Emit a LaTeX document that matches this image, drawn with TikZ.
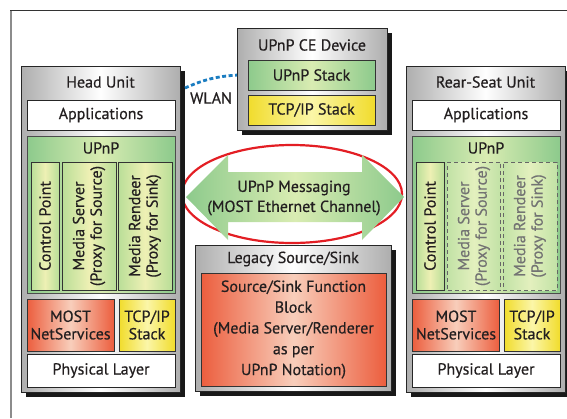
\documentclass[tikz,border=0pt]{standalone}
\usepackage{fontspec}
\setmainfont{PT Sans}[FakeBold=0.5]
\usepackage{tikz}
\usetikzlibrary{shadows}
\definecolor{TextGray}{HTML}{231F20}
\definecolor{MetalGray}{HTML}{AEAEAE}
\definecolor{UpGreenDark}{HTML}{8DCA8C}
\definecolor{UpGreenLight}{HTML}{D9ECB2}
\definecolor{ColGreen}{HTML}{B9DE98}
\definecolor{ColYellow}{HTML}{EEF0B4}
\definecolor{GhostGreen}{HTML}{C2E2A6}
\definecolor{GhostLight}{HTML}{E3F0BE}
\definecolor{TcpDark}{HTML}{F1DC2C}
\definecolor{TcpLight}{HTML}{FBF6A8}
\definecolor{MostDark}{HTML}{EC5E3E}
\definecolor{MostLight}{HTML}{F8CEBB}
\definecolor{WlanBlue}{HTML}{1B7DC1}
\definecolor{RingRed}{HTML}{E31E24}

\begin{document}
\begin{tikzpicture}[
		x=1pt,y=-1pt,
		every node/.style={font=\fontsize{16}{17.5}\selectfont, text=TextGray, inner sep=0pt, outer sep=0pt},
		UnitBox/.style={draw=black!85, line width=0.8pt, left color=MetalGray, right color=MetalGray, middle color=white,
			drop shadow={shadow xshift=5pt, shadow yshift=-5pt, fill=black!90, opacity=1}},
		WhiteLayer/.style={draw=black!85, line width=0.8pt, fill=white},
		GreenLayer/.style={draw=black!70, line width=0.8pt, left color=UpGreenDark, right color=UpGreenDark, middle color=UpGreenLight},
		YellowLayer/.style={draw=black!80, line width=0.8pt, left color=TcpDark, right color=TcpDark, middle color=TcpLight},
		RedLayer/.style={draw=black!80, line width=0.8pt, left color=MostDark, right color=MostDark, middle color=MostLight},
		ColBox/.style={draw=black!80, line width=0.8pt, left color=ColGreen, right color=ColGreen, middle color=ColYellow},
		GhostBox/.style={draw=black!60, dash pattern=on 4pt off 3pt, line width=0.8pt, left color=GhostGreen, right color=GhostGreen, middle color=GhostLight},
		ColText/.style={rotate=90, align=center},
		GhostText/.style={rotate=90, align=center, text=black!55},
		WlanLine/.style={draw=WlanBlue, line width=2.8pt, dash pattern=on 4pt off 2.5pt}
		]
		\useasboundingbox (0,0) rectangle (567,418);
		
		% frame
		\draw[black!45, line width=1.3pt] (11,418) -- (11,10);
		\draw[black!80, line width=0.8pt] (10,10) -- (567,10);
		
		% messaging ring and arrow
		\draw[RingRed, line width=2.2pt] (292,194) ellipse [x radius=110, y radius=49];
		\path[left color=UpGreenDark, right color=UpGreenDark, middle color=UpGreenLight]
			(186,197) -- (228,155) -- (228,172) -- (362,172) -- (362,155) -- (404,197)
			-- (362,240) -- (362,222) -- (228,222) -- (228,240) -- cycle;
		\node[align=center, font=\fontsize{16}{20}\selectfont] (msgText) at (294,198) {UPnP Messaging\\(MOST Ethernet Channel)};
		
		%% head unit
		\node[UnitBox, minimum width=159pt, minimum height=326pt] (HeadUnit) at (100.5,229) {};
		\node (huTitle) at (100.5,82) {Head Unit};
		\node[WhiteLayer, minimum width=148pt, minimum height=30pt] (huApps) at (101,115) {Applications};
		\node[GreenLayer, minimum width=148pt, minimum height=157pt] (huUpnp) at (101,214.5) {};
		\node (huUpnpLabel) at (101,148) {UPnP};
		\node[ColBox, minimum width=28pt, minimum height=128pt] (huCP) at (45,226) {};
		\node[ColText] (huCPText) at (45,226) {Control Point};
		\node[ColBox, minimum width=54pt, minimum height=128pt] (huMS) at (89,226) {};
		\node[ColText] (huMSText) at (89,226) {Media Server\\(Proxy for Source)};
		\node[ColBox, minimum width=54pt, minimum height=128pt] (huMR) at (145,226) {};
		\node[ColText] (huMRText) at (145,226) {Media Rendeer\\(Proxy for Sink)};
		\node[RedLayer, minimum width=87pt, minimum height=52pt, align=center] (huMost) at (70.5,325) {MOST\\NetServices};
		\node[YellowLayer, minimum width=56pt, minimum height=52pt, align=center] (huTcp) at (147,325) {TCP/IP\\Stack};
		\node[WhiteLayer, minimum width=148pt, minimum height=33pt] (huPhy) at (101,370.5) {Physical Layer};
		
		%% rear-seat unit
		\node[UnitBox, minimum width=159pt, minimum height=326pt] (RearUnit) at (485.5,229) {};
		\node (rsTitle) at (485.5,82) {Rear-Seat Unit};
		\node[WhiteLayer, minimum width=148pt, minimum height=30pt] (rsApps) at (486,115) {Applications};
		\node[GreenLayer, minimum width=148pt, minimum height=157pt] (rsUpnp) at (486,214.5) {};
		\node (rsUpnpLabel) at (486,148) {UPnP};
		\node[ColBox, minimum width=28pt, minimum height=128pt] (rsCP) at (430,226) {};
		\node[ColText] (rsCPText) at (430,226) {Control Point};
		\node[GhostBox, minimum width=53pt, minimum height=128pt] (rsMS) at (474,226) {};
		\node[GhostText] (rsMSText) at (474,226) {Media Server\\(Proxy for Source)};
		\node[GhostBox, minimum width=54pt, minimum height=128pt] (rsMR) at (530,226) {};
		\node[GhostText] (rsMRText) at (530,226) {Media Rendeer\\(Proxy for Sink)};
		\node[RedLayer, minimum width=87pt, minimum height=52pt, align=center] (rsMost) at (456,325) {MOST\\NetServices};
		\node[YellowLayer, minimum width=56pt, minimum height=52pt, align=center] (rsTcp) at (532,325) {TCP/IP\\Stack};
		\node[WhiteLayer, minimum width=148pt, minimum height=33pt] (rsPhy) at (486,370.5) {Physical Layer};
		
		%% UPnP CE device
		\node[UnitBox, minimum width=150pt, minimum height=102pt] (CEDevice) at (312,79) {};
		\node (ceTitle) at (312,45) {UPnP CE Device};
		\node[GreenLayer, draw=black!80, minimum width=127pt, minimum height=30pt] (ceUpnp) at (311.5,75) {UPnP Stack};
		\node[YellowLayer, minimum width=127pt, minimum height=30pt] (ceTcp) at (311.5,110) {TCP/IP Stack};
		
		%% legacy source/sink
		\node[UnitBox, minimum width=196pt, minimum height=146pt] (Legacy) at (293,318) {};
		\node (lgTitle) at (293,259) {Legacy Source/Sink};
		\node[RedLayer, minimum width=185pt, minimum height=113pt, align=center,
			font=\fontsize{16}{20.8}\selectfont] (lgBlock) at (293.5,329.5)
			{Source/Sink Function\\Block\\(Media Server/Renderer\\as per\\UPnP Notation)};
		
		% wireless link
		\coordinate (wlanStart) at (185,88);
		\draw[WlanLine] (wlanStart) to[bend left=10] (CEDevice.177);
		\node (wlanLabel) at (211,98) {WLAN};
		
		%\draw[red] (HeadUnit.east) -- (RearUnit.west);
		
\end{tikzpicture}
\end{document}
